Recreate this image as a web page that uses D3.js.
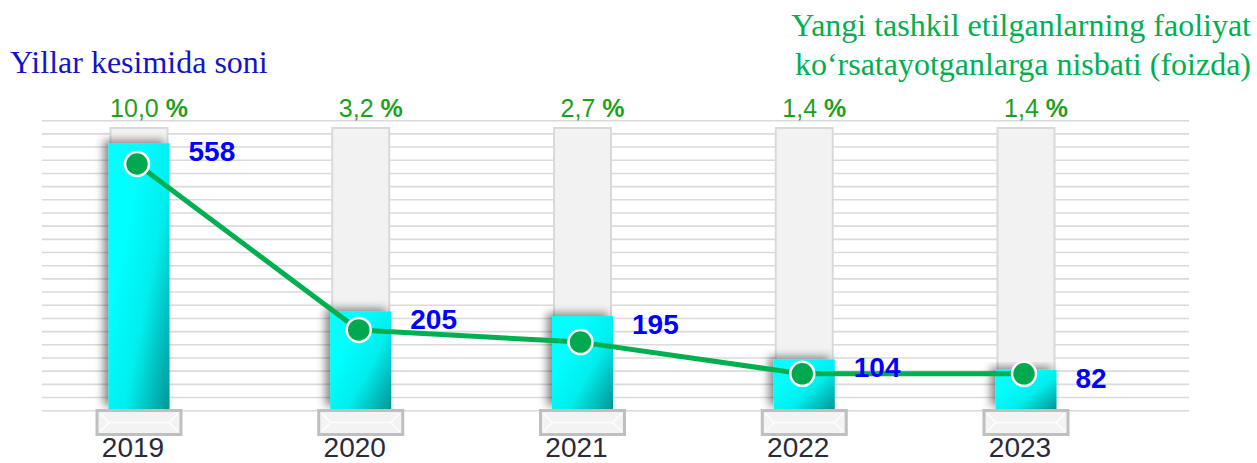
<!DOCTYPE html>
<html>
<head>
<meta charset="utf-8">
<script src="https://cdn.jsdelivr.net/npm/d3@7"></script>
<style>
  html, body { margin: 0; padding: 0; background: #ffffff; }
  svg { display: block; }
  .serif { font-family: "Liberation Serif", "DejaVu Serif", "Times New Roman", serif; }
  .sans { font-family: "Liberation Sans", Arial, sans-serif; }
</style>
</head>
<body>
<svg id="chart" width="1257" height="463"></svg>
<script>
// Data
const years = ["2019", "2020", "2021", "2022", "2023"];
const counts = [558, 205, 195, 104, 82];          // yillar kesimida soni
const shares = [10.0, 3.2, 2.7, 1.4, 1.4];         // nisbati, foizda

const leftLegend = "Yillar kesimida soni";
const rightLegend = ["Yangi tashkil etilganlarning faoliyat",
                     "ko\u2018rsatayotganlarga nisbati (foizda)"];

// Layout
const W = 1257, H = 463;
const baseY = 409, trackTop = 128;
const gridLeft = 42, gridRight = 1189, gridTop = 120.7, gridBottom = 410.7, gridCount = 23;

const svg = d3.select("#chart");
const defs = svg.append("defs");

const grad = defs.append("linearGradient")
  .attr("id", "barGrad")
  .attr("x1", 0.25).attr("y1", 0.35).attr("x2", 1).attr("y2", 1);
grad.append("stop").attr("offset", 0).attr("stop-color", "#00ffff");
grad.append("stop").attr("offset", 0.45).attr("stop-color", "#00eded");
grad.append("stop").attr("offset", 1).attr("stop-color", "#009595");

const shadow = defs.append("filter").attr("id", "barShadow")
  .attr("x", -0.5).attr("y", -0.2).attr("width", 2).attr("height", 1.4);
shadow.append("feDropShadow")
  .attr("dx", -5).attr("dy", -3).attr("stdDeviation", 4)
  .attr("flood-color", "#000").attr("flood-opacity", 0.45);

// Scales
const x = d3.scalePoint().domain(years).range([139, 1026]);
const yCount = d3.scaleLinear().domain([0, 590]).range([baseY, trackTop]);
const yShare = d3.scaleLinear().domain([0, 10]).range([408, 164]);

// Horizontal grid lines
svg.append("g").selectAll("line")
  .data(d3.range(gridCount))
  .join("line")
  .attr("x1", gridLeft).attr("x2", gridRight)
  .attr("y1", i => gridTop + i * (gridBottom - gridTop) / (gridCount - 1))
  .attr("y2", i => gridTop + i * (gridBottom - gridTop) / (gridCount - 1))
  .attr("stroke", "#dadada").attr("stroke-width", 1.6);

const rows = years.map((yr, i) => ({ year: yr, count: counts[i], share: shares[i] }));

// Background tracks
const trackW = 57;
svg.append("g").selectAll("rect")
  .data(rows).join("rect")
  .attr("x", d => x(d.year) - trackW / 2)
  .attr("y", yCount(590))
  .attr("width", trackW)
  .attr("height", baseY - yCount(590))
  .attr("fill", "#f2f2f2")
  .attr("stroke", "#d9d9d9").attr("stroke-width", 2);

// Count bars
const barW = 61;
svg.append("g").selectAll("rect")
  .data(rows).join("rect")
  .attr("x", d => x(d.year) - barW / 2)
  .attr("y", d => yCount(d.count))
  .attr("width", barW)
  .attr("height", d => baseY - yCount(d.count))
  .attr("fill", "url(#barGrad)")
  .attr("filter", "url(#barShadow)");

// Base plates
const plateW = 84, plateH = 24;
const plates = svg.append("g").selectAll("g")
  .data(rows).join("g")
  .attr("transform", d => `translate(${x(d.year) - plateW / 2},${baseY + 1.5})`);
plates.append("rect")
  .attr("width", plateW).attr("height", plateH)
  .attr("fill", "#f3f3f3")
  .attr("stroke", "#bfbfbf").attr("stroke-width", 3);
plates.append("path")
  .attr("d", `M3,3 L12,${plateH / 2} L3,${plateH - 3} M${plateW - 3},3 L${plateW - 12},${plateH / 2} L${plateW - 3},${plateH - 3} M12,${plateH / 2} L${plateW - 12},${plateH / 2}`)
  .attr("fill", "none").attr("stroke", "#ffffff").attr("stroke-width", 1.5).attr("opacity", 0.9);

// Year labels
svg.append("g").selectAll("text")
  .data(rows).join("text")
  .attr("class", "sans")
  .attr("x", d => x(d.year) - 6)
  .attr("y", 457)
  .attr("text-anchor", "middle")
  .attr("font-size", 28)
  .attr("fill", "#2a2a38")
  .text(d => d.year);

// Share line
const line = d3.line()
  .x(d => x(d.year) - 2)
  .y(d => yShare(d.share));
svg.append("path")
  .datum(rows)
  .attr("d", line)
  .attr("fill", "none")
  .attr("stroke", "#00b050")
  .attr("stroke-width", 5)
  .attr("stroke-linejoin", "round");

svg.append("g").selectAll("circle")
  .data(rows).join("circle")
  .attr("cx", d => x(d.year) - 2)
  .attr("cy", d => yShare(d.share))
  .attr("r", 12)
  .attr("fill", "#00a84f")
  .attr("stroke", "#ffffff").attr("stroke-width", 2.5);

// Count labels
svg.append("g").selectAll("text")
  .data(rows).join("text")
  .attr("class", "sans")
  .attr("x", d => x(d.year) + barW / 2 + 19)
  .attr("y", d => yCount(d.count) + 18)
  .attr("font-size", 28)
  .attr("font-weight", "bold")
  .attr("fill", "#0000ff")
  .text(d => d.count);

// Share labels above the tracks
const fmtShare = v => d3.format(".1f")(v).replace(".", ",");
const shareText = svg.append("g").selectAll("text")
  .data(rows).join("text")
  .attr("class", "sans")
  .attr("x", d => x(d.year) + 10)
  .attr("y", 117)
  .attr("text-anchor", "middle")
  .attr("font-size", 25)
  .attr("fill", "#1f9f1f");
shareText.append("tspan").text(d => fmtShare(d.share) + " ");
shareText.append("tspan").attr("font-weight", "bold").text("%");

// Legends
svg.append("text")
  .attr("class", "serif")
  .attr("x", 10).attr("y", 73)
  .attr("font-size", 32)
  .attr("fill", "#1414c4")
  .text(leftLegend);

svg.append("g").selectAll("text")
  .data(rightLegend).join("text")
  .attr("class", "serif")
  .attr("x", 1251)
  .attr("y", (d, i) => 36 + i * 39)
  .attr("text-anchor", "end")
  .attr("font-size", 32)
  .attr("fill", "#00b050")
  .text(d => d);
</script>
</body>
</html>
